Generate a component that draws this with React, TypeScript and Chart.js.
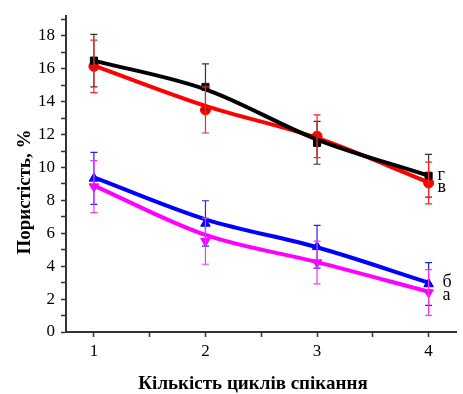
import React, { useEffect, useRef } from 'react';
import { Chart, registerables } from 'chart.js';
Chart.register(...registerables);

const cycles = [1, 2, 3, 4];
const xTickValues = [1, 1.5, 2, 2.5, 3, 3.5, 4];
const seriesNames = ['г', 'в', 'б', 'а'];
const seriesColors = ['#000000', '#ff0000', '#0000ff', '#ff00ff'];
const errColors = ['#333333', '#ff2020', '#2020ff', '#ff30ff'];

const gMeasured = [16.5, 14.9, 11.5, 9.5];
const gFit = [16.5, 14.75, 11.7, 9.5];
const gErr = [1.6, 1.4, 1.3, 1.3];

const vMeasured = [16.15, 13.5, 11.9, 9.06];
const vFit = [16.2, 13.75, 11.8, 9.1];
const vErr = [1.6, 1.4, 1.3, 1.27];

const bMeasured = [9.34, 6.6, 5.18, 2.92];
const bFit = [9.4, 6.85, 5.15, 3.0];
const bErr = [1.58, 1.38, 1.3, 1.3];

const aMeasured = [8.84, 5.52, 4.22, 2.4];
const aFit = [8.9, 5.9, 4.25, 2.45];
const aErr = [1.58, 1.4, 1.3, 1.39];

const measured = [gMeasured, vMeasured, bMeasured, aMeasured];
const fits = [gFit, vFit, bFit, aFit];
const errors = [gErr, vErr, bErr, aErr];
const pointStyles = ['rect', 'circle', 'triangle', 'triangle'];
const pointRotations = [0, 0, 0, 180];
const pointRadii = [5, 5, 5.5, 5.5];

const xTitle = 'Кількість циклів спікання';
const yTitle = 'Пористість, %';

const SERIF = "'Liberation Serif', 'Times New Roman', serif";

const errorBarPlugin = {
  id: 'errorBars',
  afterDatasetsDraw(chart: any) {
    const { ctx, scales } = chart;
    const xs = scales.x, ys = scales.y;
    ctx.save();
    ctx.lineWidth = 1.2;
    errors.forEach((errArr, si) => {
      ctx.strokeStyle = errColors[si];
      errArr.forEach((e, i) => {
        const x = xs.getPixelForValue(cycles[i]);
        const yTop = ys.getPixelForValue(measured[si][i] + e);
        const yBot = ys.getPixelForValue(measured[si][i] - e);
        ctx.beginPath();
        ctx.moveTo(x, yTop);
        ctx.lineTo(x, yBot);
        ctx.moveTo(x - 3.5, yTop);
        ctx.lineTo(x + 3.5, yTop);
        ctx.moveTo(x - 3.5, yBot);
        ctx.lineTo(x + 3.5, yBot);
        ctx.stroke();
      });
    });
    ctx.restore();
  },
};

const labelOffsets = [
  [9, 4],
  [9, 10],
  [14, 4.5],
  [14, 8],
];

const seriesLabelPlugin = {
  id: 'seriesLabels',
  afterDraw(chart: any) {
    const { ctx, scales } = chart;
    ctx.save();
    ctx.font = `18px ${SERIF}`;
    ctx.fillStyle = '#000';
    ctx.textAlign = 'left';
    ctx.textBaseline = 'alphabetic';
    seriesNames.forEach((name, si) => {
      const last = cycles.length - 1;
      const x = scales.x.getPixelForValue(cycles[last]) + labelOffsets[si][0];
      const y = scales.y.getPixelForValue(fits[si][last]) + labelOffsets[si][1];
      ctx.fillText(name, x, y);
    });
    ctx.restore();
  },
};

const axisTitlePlugin = {
  id: 'axisTitles',
  afterDraw(chart: any) {
    const { ctx } = chart;
    ctx.save();
    ctx.font = `bold 19px ${SERIF}`;
    ctx.fillStyle = '#000';
    ctx.textAlign = 'center';
    ctx.textBaseline = 'alphabetic';
    ctx.fillText(xTitle, 253, 388.5);
    ctx.translate(30, 192);
    ctx.rotate(-Math.PI / 2);
    ctx.fillText(yTitle, 0, 0);
    ctx.restore();
  },
};

export default function App() {
  const ref = useRef<HTMLCanvasElement>(null);
  useEffect(() => {
    document.body.style.margin = '0';
    const datasets: any[] = [];
    fits.forEach((f, si) => {
      datasets.push({
        data: cycles.map((c, i) => ({ x: c, y: f[i] })),
        borderColor: seriesColors[si],
        borderWidth: 4,
        cubicInterpolationMode: 'monotone',
        pointRadius: 0,
        fill: false,
      });
    });
    measured.forEach((m, si) => {
      datasets.push({
        data: cycles.map((c, i) => ({ x: c, y: m[i] })),
        showLine: false,
        pointStyle: pointStyles[si],
        rotation: pointRotations[si],
        pointRadius: pointRadii[si],
        backgroundColor: seriesColors[si],
        borderColor: seriesColors[si],
        borderWidth: 1,
      });
    });
    const chart = new Chart(ref.current!, {
      type: 'line',
      data: { datasets },
      plugins: [errorBarPlugin, seriesLabelPlugin, axisTitlePlugin],
      options: {
        responsive: false,
        animation: false,
        layout: { padding: { top: 12, right: 1, left: 0, bottom: 0 } },
        plugins: { legend: { display: false }, tooltip: { enabled: false } },
        scales: {
          x: {
            type: 'linear',
            min: 0.75,
            max: 4.25,
            afterFit: (s: any) => { s.height = 62; },
            afterBuildTicks: (s: any) => { s.ticks = xTickValues.map((v) => ({ value: v })); },
            ticks: {
              autoSkip: false,
              maxRotation: 0,
              padding: 4,
              color: '#000',
              font: { family: SERIF, size: 17 },
              callback: (v: any) => (Number.isInteger(v) ? String(v) : ''),
            },
            grid: { drawOnChartArea: false, drawTicks: true, tickLength: 5, tickColor: '#333', tickWidth: 1.5 },
            border: { display: true, color: '#333', width: 2 },
          },
          y: {
            type: 'linear',
            min: 0,
            max: 19.2,
            afterFit: (s: any) => { s.width = 66; },
            ticks: {
              stepSize: 1,
              includeBounds: false,
              autoSkip: false,
              padding: 6,
              color: '#000',
              font: { family: SERIF, size: 17 },
              callback: (v: any) => (v % 2 === 0 ? String(v) : ''),
            },
            grid: { drawOnChartArea: false, drawTicks: true, tickLength: 5, tickColor: '#333', tickWidth: 1.5 },
            border: { display: true, color: '#333', width: 2 },
          },
        },
      },
    });
    return () => chart.destroy();
  }, []);
  return (
    <div style={{ width: 463, height: 394 }}>
      <canvas ref={ref} width={463} height={394} />
    </div>
  );
}
